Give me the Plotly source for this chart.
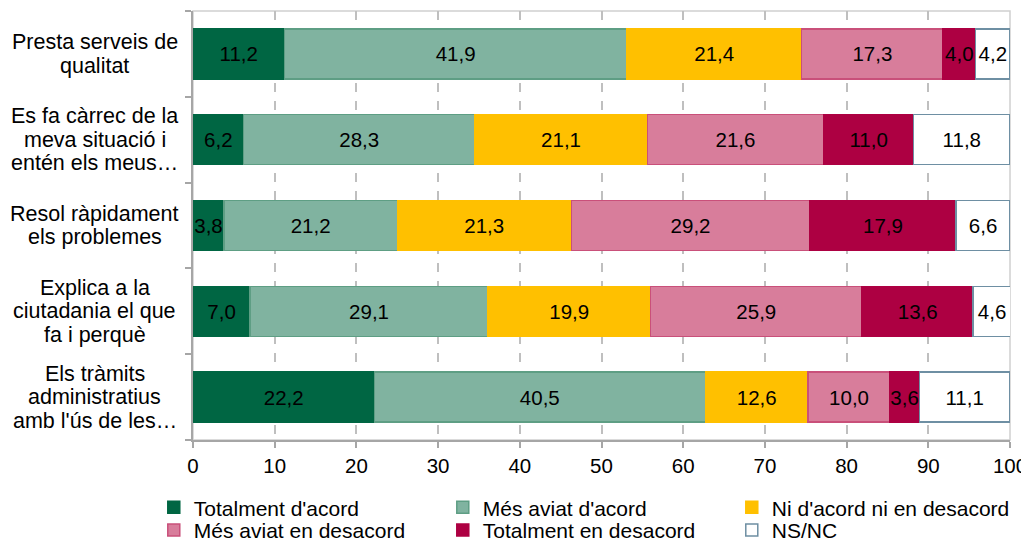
import plotly.graph_objects as go

categories = [
    "Presta serveis de<br>qualitat",
    "Es fa càrrec de la<br>meva situació i<br>entén els meus…",
    "Resol ràpidament<br>els problemes",
    "Explica a la<br>ciutadania el que<br>fa i perquè",
    "Els tràmits<br>administratius<br>amb l'ús de les…",
]
series_names = ["Totalment d'acord", "Més aviat d'acord", "Ni d'acord ni en desacord",
                "Més aviat en desacord", "Totalment en desacord", "NS/NC"]
totalment_acord = [11.2, 6.2, 3.8, 7.0, 22.2]
mes_aviat_acord = [41.9, 28.3, 21.2, 29.1, 40.5]
ni_acord = [21.4, 21.1, 21.3, 19.9, 12.6]
mes_aviat_desacord = [17.3, 21.6, 29.2, 25.9, 10.0]
totalment_desacord = [4.0, 11.0, 17.9, 13.6, 3.6]
ns_nc = [4.2, 11.8, 6.6, 4.6, 11.1]

values = [totalment_acord, mes_aviat_acord, ni_acord, mes_aviat_desacord, totalment_desacord, ns_nc]
fills = ["#006643", "#80B3A0", "#FFC000", "#D87D9B", "#AD0042", "#FFFFFF"]
edges = ["#006643", "#5E9E84", "#FFC000", "#C9507A", "#AD0042", "#6E8FA3"]

font = "Liberation Sans, Arial, sans-serif"
fs = 20.5
ids = list(range(len(categories)))

fig = go.Figure()
for k, (name, vals, fc, ec) in enumerate(zip(series_names, values, fills, edges)):
    fig.add_trace(go.Bar(
        y=ids, x=vals, name=name, orientation="h",
        legend="legend" if k < 3 else "legend2",
        marker=dict(color=fc, line=dict(color=ec, width=1.5)),
        texttemplate="%{x:.1f}", textposition="inside", insidetextanchor="middle",
        textangle=0, textfont=dict(color="black", size=fs, family=font),
        constraintext="none",
    ))

# category labels, one annotation per line to keep the tight line spacing
line_h = 23.5
for i, c in zip(ids, categories):
    lines = c.split("<br>")
    for k, ln in enumerate(lines):
        fig.add_annotation(x=-0.12, xref="paper", y=i, yref="y", text=ln, showarrow=False,
                           xanchor="center", yshift=((len(lines) - 1) / 2 - k) * line_h,
                           font=dict(size=21.5, color="black", family=font))

leg = dict(orientation="h", x=-0.048, xanchor="left", yanchor="top",
           entrywidth=244, entrywidthmode="pixels", itemwidth=30,
           font=dict(size=21, family=font), traceorder="normal", bgcolor="rgba(0,0,0,0)")

# page body has an 8px margin, so the figure is sized to fit the window
fig.update_layout(
    barmode="stack", bargap=0.417,
    width=1021, height=533,
    margin=dict(l=185, r=19, t=3, b=101, autoexpand=False),
    paper_bgcolor="white", plot_bgcolor="white",
    separators=",.",
    font=dict(family=font, size=fs, color="black"),
    uniformtext=dict(minsize=fs, mode="show"),
    showlegend=True,
    legend=dict(leg, y=-0.110),
    legend2=dict(leg, y=-0.163),
    xaxis=dict(range=[0, 100], dtick=10, showgrid=True, gridcolor="#BFBFBF",
               griddash="dash", gridwidth=1.5, zeroline=False,
               showline=True, linecolor="#A6A6A6", linewidth=2,
               ticks="outside", ticklen=6, tickcolor="#A6A6A6", tickwidth=1.5,
               tickfont=dict(size=fs, family=font)),
    yaxis=dict(autorange="reversed", tickvals=[i - 0.5 for i in ids] + [len(ids) - 0.5],
               showticklabels=False, showgrid=False, zeroline=False,
               showline=True, linecolor="#A6A6A6", linewidth=2,
               ticks="outside", ticklen=6, tickcolor="#A6A6A6", tickwidth=1.5),
)
# light frame around plot area (top and right)
fig.add_shape(type="rect", xref="paper", yref="paper", x0=0, x1=1, y0=0, y1=1,
              line=dict(color="#D0D0D0", width=1.5), layer="below")

fig.write_html("out.html")
